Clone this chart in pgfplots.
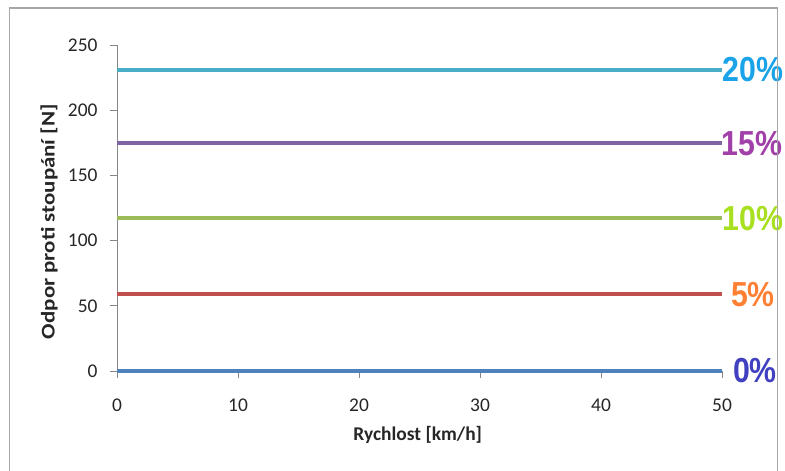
\documentclass[border=0pt]{standalone}
\usepackage{pgfplots}
\pgfplotsset{compat=1.18}
\usepackage{fontspec}
\setmainfont{Carlito}
\newfontfamily\labfont{Liberation Sans}
\definecolor{l0}{HTML}{4F81BD}
\definecolor{l5}{HTML}{C0504D}
\definecolor{l10}{HTML}{9BBB59}
\definecolor{l15}{HTML}{8064A2}
\definecolor{l20}{HTML}{4BACC6}
\definecolor{t0}{HTML}{4040C0}
\definecolor{t5}{HTML}{FF8033}
\definecolor{t10}{HTML}{A8E020}
\definecolor{t15}{HTML}{A040A8}
\definecolor{t20}{HTML}{1AA3E8}
\definecolor{axgray}{HTML}{868686}
\definecolor{frame}{HTML}{A6A6A6}
\newcommand{\pl}[1]{\scalebox{0.95}[1.09]{\labfont\bfseries\fontsize{32}{34}\selectfont #1}}
\begin{document}
\begin{tikzpicture}[x=1bp,y=1bp]
\path[use as bounding box] (0,0) rectangle (785,471);
\begin{axis}[
  at={(117bp,100bp)}, anchor=south west,
  scale only axis, width=605bp, height=326bp,
  xmin=0, xmax=50, ymin=0, ymax=250,
  xtick={0,10,...,50}, ytick={0,50,...,250},
  axis lines*=left,
  axis line style={axgray, line width=0.9bp},
  tick align=outside,
  major tick length=7bp,
  tick style={axgray, line width=0.9bp},
  every tick label/.append style={font=\fontsize{19.5}{22}\selectfont, text=black!85},
  /pgf/number format/assume math mode=true,
  xticklabel style={yshift=-17bp},
  yticklabel style={xshift=-9bp},
  xlabel={\bfseries Rychlost [km/h]},
  ylabel={\scalebox{1.18}[1]{\bfseries Odpor proti stoupání [N]}},
  label style={font=\fontsize{19.5}{22}\selectfont, text=black!85},
  xlabel style={at={(axis description cs:0.497,-0.196)}, anchor=center},
  ylabel style={at={(axis description cs:-0.1124,0.458)}, anchor=center, rotate=0},
  clip=false,
]
\addplot[l0, line width=3.8bp] coordinates {(0,0) (10,0) (20,0) (30,0) (40,0) (50,0)}
  node[pos=1, anchor=center, xshift=33bp, text=t0] {\pl{0\%}};
\addplot[l5, line width=3.8bp] coordinates {(0,58.8) (10,58.8) (20,58.8) (30,58.8) (40,58.8) (50,58.8)}
  node[pos=1, anchor=center, xshift=31bp, text=t5] {\pl{5\%}};
\addplot[l10, line width=3.8bp] coordinates {(0,117.2) (10,117.2) (20,117.2) (30,117.2) (40,117.2) (50,117.2)}
  node[pos=1, anchor=center, xshift=31bp, text=t10] {\pl{10\%}};
\addplot[l15, line width=3.8bp] coordinates {(0,174.7) (10,174.7) (20,174.7) (30,174.7) (40,174.7) (50,174.7)}
  node[pos=1, anchor=center, xshift=30bp, text=t15] {\pl{15\%}};
\addplot[l20, line width=3.8bp] coordinates {(0,231.0) (10,231.0) (20,231.0) (30,231.0) (40,231.0) (50,231.0)}
  node[pos=1, anchor=center, xshift=31bp, text=t20] {\pl{20\%}};
\end{axis}
\draw[frame, line width=1.8bp] (9.5,-5) -- (9.5,463) -- (777.5,463) -- (777.5,-5);
\end{tikzpicture}
\end{document}
